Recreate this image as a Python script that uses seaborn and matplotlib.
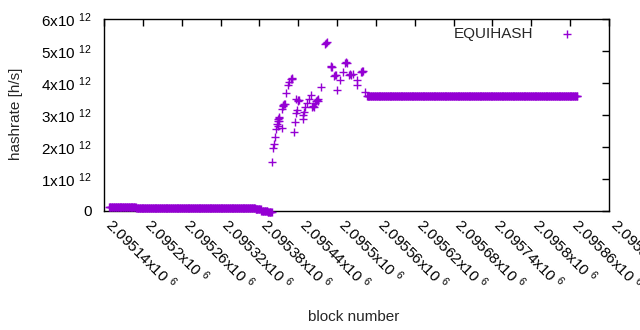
import numpy as np
import pandas as pd
import matplotlib
matplotlib.use("Agg")
import matplotlib.pyplot as plt
import matplotlib.ticker as ticker
import seaborn as sns

# ─────────────────────────────────────────────────────────────────────────────
# DATA  (hashrate in units of 1e12 h/s)
# ─────────────────────────────────────────────────────────────────────────────
# runs of (near) constant hashrate: one point per block
run_start = [2095148, 2095190, 2095374, 2095383, 2095393, 2095546]
run_end   = [2095189, 2095373, 2095382, 2095392, 2095399, 2095871]
run_value = [0.11,    0.09,    0.05,    0.01,    -0.02,   3.60]

# the scattered climb between the two flat stretches
jump_block = [
    2095400, 2095401, 2095403, 2095404, 2095405, 2095407, 2095408,
    2095409, 2095409, 2095410, 2095410, 2095411, 2095415, 2095415,
    2095416, 2095417, 2095418, 2095420, 2095421, 2095424, 2095426,
    2095429, 2095430, 2095431, 2095434, 2095435, 2095436, 2095437,
    2095438, 2095439, 2095440, 2095441, 2095447, 2095448, 2095449,
    2095450, 2095453, 2095456, 2095460, 2095462, 2095463, 2095464,
    2095466, 2095468, 2095469, 2095470, 2095471, 2095475, 2095482,
    2095483, 2095484, 2095490, 2095491, 2095492, 2095496, 2095497,
    2095498, 2095500, 2095505, 2095509, 2095513, 2095514, 2095515,
    2095519, 2095520, 2095521, 2095524, 2095530, 2095531, 2095537,
    2095538, 2095539, 2095540, 2095543,
]
jump_value = [
    1.52, 1.96, 2.09, 2.32, 2.56, 2.71, 2.66,
    2.80, 2.86, 2.81, 2.90, 2.95, 2.58, 3.18,
    3.28, 3.31, 3.34, 3.33, 3.68, 3.94, 4.02,
    4.12, 4.16, 4.13, 2.46, 2.77, 3.07, 3.49,
    3.16, 3.45, 3.48, 3.46, 3.00, 2.87, 3.10,
    3.26, 3.38, 3.49, 3.63, 3.24, 3.28, 3.25,
    3.37, 3.44, 3.47, 3.45, 3.49, 3.88, 5.22,
    5.25, 5.27, 4.50, 4.53, 4.51, 4.23, 4.26,
    4.24, 3.78, 4.09, 4.35, 4.63, 4.66, 4.64,
    4.24, 4.27, 4.25, 4.28, 3.94, 4.09, 4.34,
    4.37, 4.35, 4.36, 3.73,
]

series_label = "EQUIHASH"
x_ticks = [2095140 + 60 * k for k in range(14)]
y_ticks = [0, 1, 2, 3, 4, 5, 6]

COLOR = "#9400D3"
FONT = "Liberation Sans"

# ─────────────────────────────────────────────────────────────────────────────
# TABLE
# ─────────────────────────────────────────────────────────────────────────────
blocks, values = [], []
for s, e, v in zip(run_start, run_end, run_value):
    blocks += list(range(s, e + 1))
    values += [v] * (e - s + 1)
blocks += jump_block
values += jump_value
df = pd.DataFrame({"block": blocks, "hashrate": np.array(values) * 1e12})

# ─────────────────────────────────────────────────────────────────────────────
# PLOT
# ─────────────────────────────────────────────────────────────────────────────
sns.set_style("white")
plt.rcParams["font.family"] = [FONT, "DejaVu Sans"]
plt.rcParams["mathtext.fontset"] = "custom"
plt.rcParams["mathtext.rm"] = FONT
plt.rcParams["mathtext.it"] = FONT + ":italic"
plt.rcParams["mathtext.bf"] = FONT + ":bold"

fig = plt.figure(figsize=(6.4, 3.3), dpi=100)
ax = fig.add_axes([104 / 640, 1 - 211 / 330, 505 / 640, 192 / 330])

sns.scatterplot(
    data=df, x="block", y="hashrate", ax=ax,
    marker="+", color=COLOR, s=32, linewidth=1.0, label=series_label,
    clip_on=False, zorder=3,
)

ax.set_xlim(x_ticks[0], x_ticks[-1])
ax.set_ylim(0, 6e12)
ax.set_xticks(x_ticks)
ax.set_yticks([v * 1e12 for v in y_ticks])
ax.xaxis.set_major_formatter(
    ticker.FuncFormatter(lambda x, _: f"{x / 1e6:g}x10 $^{{6}}$"))
ax.yaxis.set_major_formatter(
    ticker.FuncFormatter(lambda y, _: "0" if y == 0 else f"{y / 1e12:.0f}x10 $^{{12}}$"))

ax.tick_params(direction="in", length=5, width=1, top=True, right=True,
               labelsize=11, colors="black")
ax.tick_params(axis="y", pad=9)
ax.tick_params(axis="x", pad=11)
for lab in ax.get_xticklabels():
    lab.set_rotation(-45)
    lab.set_rotation_mode("anchor")
    lab.set_ha("left")
    lab.set_va("baseline")

for sp in ax.spines.values():
    sp.set_color("black")
    sp.set_linewidth(1)
    sp.set_zorder(2)

ax.set_xlabel("")
ax.set_ylabel("")
fig.text(16 / 640, 1 - 114 / 330, "hashrate [h/s]", rotation=90,
         ha="center", va="center", fontsize=11)
fig.text(354 / 640, 1 - 321 / 330, "block number", ha="center",
         va="baseline", fontsize=11)

ax.legend(loc="upper right", bbox_to_anchor=(0.975, 1.03), frameon=False,
          markerfirst=False, fontsize=11, handletextpad=1.2)

fig.savefig("out.png", dpi=100)
plt.close(fig)
